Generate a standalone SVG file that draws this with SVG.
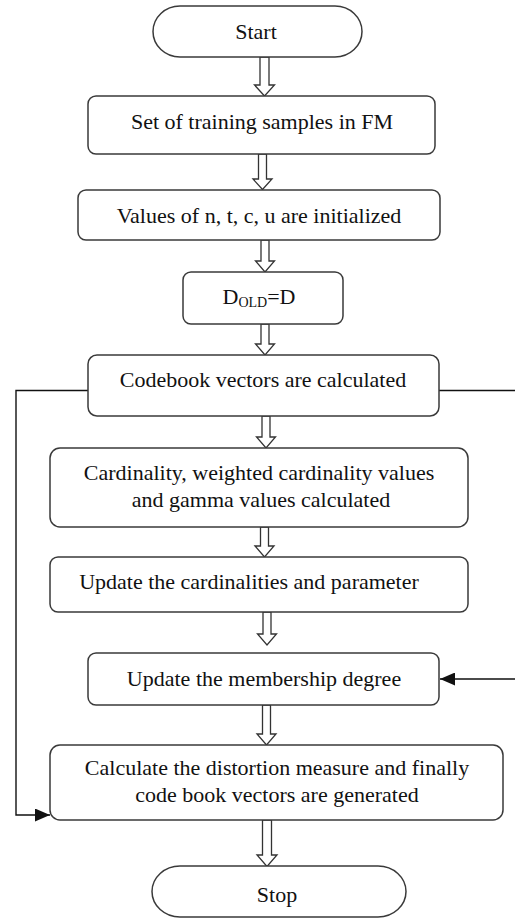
<svg xmlns="http://www.w3.org/2000/svg" width="515" height="918" viewBox="0 0 515 918">
<style>
.box{fill:#fff;stroke:#3a3a3a;stroke-width:1.5}
.t{font-family:"Liberation Serif","Times New Roman",serif;font-size:22px;fill:#111;text-anchor:middle}
.sub{font-size:14px}
.blk{fill:#fff;stroke:#333;stroke-width:1.3}
.ln{fill:none;stroke:#111;stroke-width:1.4}
</style>
<defs>
<marker id="ah" markerWidth="15" markerHeight="13" refX="15" refY="6.5" orient="auto" markerUnits="userSpaceOnUse">
<path d="M0,0 L15,6.5 L0,13 Z" fill="#111"/>
</marker>
</defs>
<rect width="515" height="918" fill="#fff"/>
<g id="connectors">
<path class="blk" d="M260 57 V85 H254.5 L264.5 96 L274.5 85 H269 V57 Z"/>
<path class="blk" d="M258.5 154 V179 H253 L262.5 189.5 L272 179 H266.5 V154 Z"/>
<path class="blk" d="M261 240 V261 H255.5 L265 272 L274.5 261 H269 V240 Z"/>
<path class="blk" d="M261 324 V344 H255.5 L265 355 L274.5 344 H269 V324 Z"/>
<path class="blk" d="M262 416 V437 H256.5 L266 448 L275.5 437 H270 V416 Z"/>
<path class="blk" d="M260.5 527 V546 H255 L264.5 557 L274 546 H268.5 V527 Z"/>
<path class="blk" d="M263 612 V634 H257.5 L267 645 L276.5 634 H271 V612 Z"/>
<path class="blk" d="M262.5 705 V734 H257 L266.5 745 L276 734 H270.5 V705 Z"/>
<path class="blk" d="M262.5 820 V855 H257 L267 866.5 L277 855 H271.5 V820 Z"/>
<path class="ln" d="M88 390.5 H16 V815 H50" marker-end="url(#ah)"/>
<path class="ln" d="M439 390.5 H520 V679 H440" marker-end="url(#ah)"/>
</g>
<g id="start">
<rect class="box" x="153" y="6" width="209" height="51" rx="27" ry="25.5"/>
<text class="t" x="256" y="39">Start</text>
</g>
<g id="n1">
<rect class="box" x="88" y="96" width="347" height="58" rx="8"/>
<text class="t" x="262" y="129">Set of training samples in FM</text>
</g>
<g id="n2">
<rect class="box" x="78" y="190" width="362" height="50" rx="8"/>
<text class="t" x="259" y="223">Values of n, t, c, u are initialized</text>
</g>
<g id="n3">
<rect class="box" x="183" y="272" width="160" height="52" rx="8"/>
<text class="t" x="259" y="304">D<tspan class="sub" dy="3">OLD</tspan><tspan dy="-3">=D</tspan></text>
</g>
<g id="n4">
<rect class="box" x="88" y="355" width="351" height="61" rx="9"/>
<text class="t" x="263" y="387">Codebook vectors are calculated</text>
</g>
<g id="n5">
<rect class="box" x="50" y="448" width="418" height="79" rx="10"/>
<text class="t" x="259" y="480">Cardinality, weighted cardinality values</text>
<text class="t" x="261" y="507">and gamma values calculated</text>
</g>
<g id="n6">
<rect class="box" x="50" y="557" width="418" height="55" rx="8"/>
<text class="t" x="249" y="589">Update the cardinalities and parameter</text>
</g>
<g id="n7">
<rect class="box" x="88" y="653" width="351" height="52" rx="8"/>
<text class="t" x="264" y="686">Update the membership degree</text>
</g>
<g id="n8">
<rect class="box" x="50" y="745" width="453" height="75" rx="10"/>
<text class="t" x="277" y="775">Calculate the distortion measure and finally</text>
<text class="t" x="277" y="802">code book vectors are generated</text>
</g>
<g id="stop">
<rect class="box" x="152" y="866" width="254" height="51" rx="28" ry="25.5"/>
<text class="t" x="277" y="902">Stop</text>
</g>
</svg>
